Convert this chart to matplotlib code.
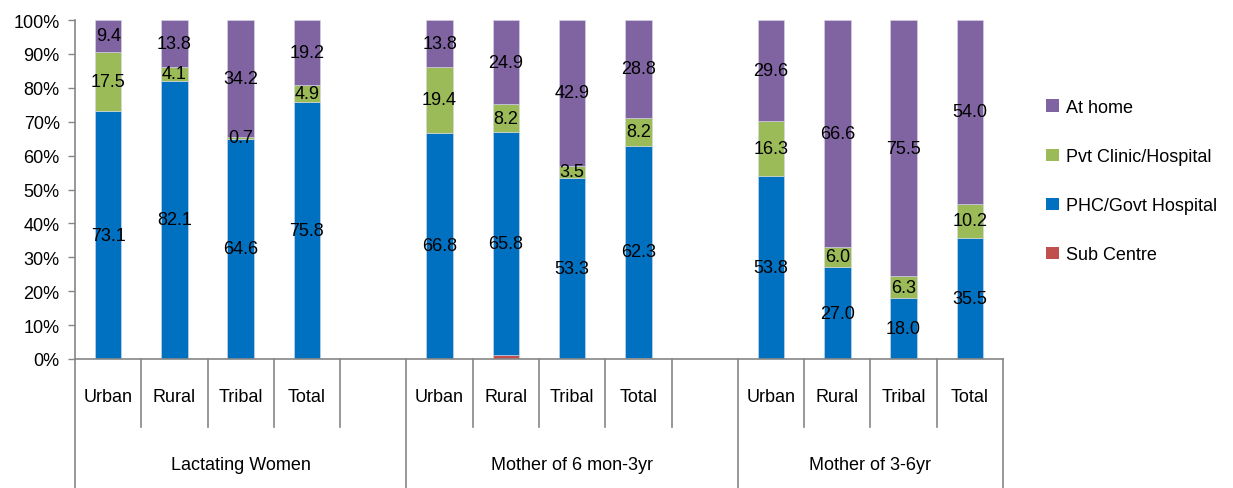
import numpy as np
import matplotlib.pyplot as plt
from matplotlib.patches import Patch
from matplotlib.lines import Line2D
from matplotlib.transforms import blended_transform_factory

plt.rcParams['font.family'] = ['Liberation Sans', 'DejaVu Sans']

groups = ["Lactating Women", "Mother of 6 mon-3yr", "Mother of 3-6yr"]
areas = ["Urban", "Rural", "Tribal", "Total"]

# values per bar: group 1 (U, R, T, Tot), group 2, group 3
sub_centre = [0.0, 0.0, 0.0, 0.0, 0.0, 1.1, 0.0, 0.4, 0.0, 0.0, 0.0, 0.0]
phc_govt = [73.1, 82.1, 64.6, 75.8, 66.8, 65.8, 53.3, 62.3, 53.8, 27.0, 18.0, 35.5]
pvt_clinic = [17.5, 4.1, 0.7, 4.9, 19.4, 8.2, 3.5, 8.2, 16.3, 6.0, 6.3, 10.2]
at_home = [9.4, 13.8, 34.2, 19.2, 13.8, 24.9, 42.9, 28.8, 29.6, 66.6, 75.5, 54.0]

series = [
    ("Sub Centre", sub_centre, "#C0504D", False),
    ("PHC/Govt Hospital", phc_govt, "#0070C0", True),
    ("Pvt Clinic/Hospital", pvt_clinic, "#9BBB59", True),
    ("At home", at_home, "#8064A2", True),
]

AXIS_GREY = "#868686"

fig = plt.figure(figsize=(12.33, 4.89), dpi=100)
ax = fig.add_axes([75 / 1233, 1 - 360 / 489, (1003 - 75) / 1233, (360 - 21) / 489])

# slot index per bar, leaving an empty slot after each group
xpos = np.array([g * 5 + c for g in range(3) for c in range(4)])
totals = np.sum([s[1] for s in series], axis=0)

bottom = np.zeros(len(xpos))
for name, vals, color, show in series:
    vals = np.array(vals)
    h = vals / totals * 100
    ax.bar(xpos, h, width=0.4, bottom=bottom, color=color,
           edgecolor="#d8d8e8", linewidth=0.4, label=name, zorder=2)
    if show:
        for x, b, hh, v in zip(xpos, bottom, h, vals):
            ax.text(x, b + hh / 2, f"{v:.1f}", ha="center", va="center",
                    fontsize=13, color="black", zorder=3)
    bottom += h

ax.set_xlim(-0.5, 13.5)
ax.set_ylim(0, 100)
ax.set_yticks(range(0, 101, 10))
ax.set_yticklabels([f"{t}%" for t in range(0, 101, 10)], fontsize=13)
ax.tick_params(axis="y", direction="out", length=5, width=1, color=AXIS_GREY, pad=6)
ax.set_xticks([])
for side in ["top", "right"]:
    ax.spines[side].set_visible(False)
for side in ["left", "bottom"]:
    ax.spines[side].set_color(AXIS_GREY)
    ax.spines[side].set_linewidth(1.2)

# two-level category axis drawn below the plot
trans = blended_transform_factory(ax.transData, fig.transFigure)
y_axis = 1 - 360 / 489
y_short = 1 - 428 / 489
group_edges = [-0.5, 4.5, 9.5, 13.5]
for b in np.arange(-0.5, 14.0, 1.0):
    y_end = 0.0 if b in group_edges else y_short
    fig.add_artist(Line2D([b, b], [y_axis, y_end], transform=trans,
                          color=AXIS_GREY, linewidth=1.2))

for g in range(3):
    for c, a in enumerate(areas):
        fig.text(g * 5 + c, 1 - 398 / 489, a, transform=trans,
                 ha="center", va="center", fontsize=13)
    centre = (group_edges[g] + group_edges[g + 1]) / 2
    fig.text(centre, 1 - 466 / 489, groups[g], transform=trans,
             ha="center", va="center", fontsize=13)

handles = [Patch(facecolor=c, edgecolor="none", label=n) for n, _, c, _ in series[::-1]]
fig.legend(handles=handles, loc="upper left", bbox_to_anchor=(1046 / 1233, 1 - 100 / 489),
           frameon=False, fontsize=13, handlelength=0.7, handleheight=0.7,
           handletextpad=0.4, labelspacing=1.78, borderpad=0, borderaxespad=0)

fig.savefig("out.png", dpi=100)
